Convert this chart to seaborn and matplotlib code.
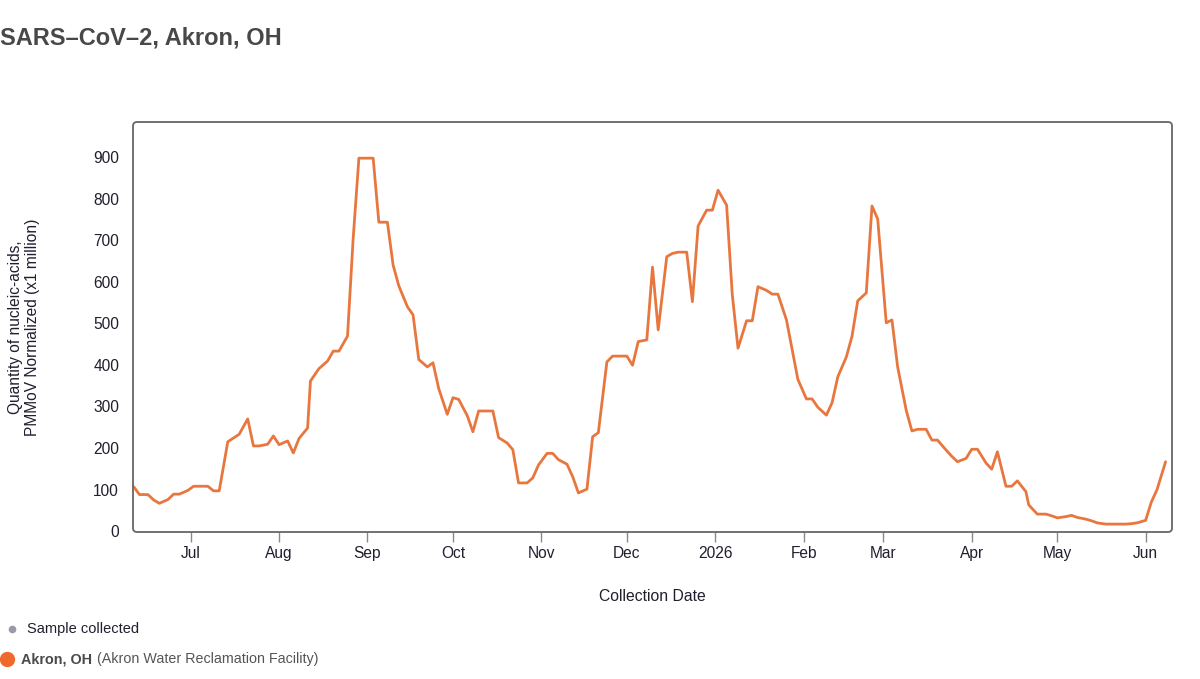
import matplotlib
matplotlib.use("Agg")
import matplotlib.pyplot as plt
import matplotlib.dates as mdates
from matplotlib.patches import FancyBboxPatch
from matplotlib.lines import Line2D
import seaborn as sns
import pandas as pd

# ---- data ----
dates = [
    "2025-06-11", "2025-06-13", "2025-06-16", "2025-06-18", "2025-06-20", "2025-06-23",
    "2025-06-25", "2025-06-27", "2025-06-30", "2025-07-02", "2025-07-04", "2025-07-07",
    "2025-07-09", "2025-07-11", "2025-07-14", "2025-07-16", "2025-07-18", "2025-07-21",
    "2025-07-23", "2025-07-25", "2025-07-28", "2025-07-30", "2025-08-01", "2025-08-04",
    "2025-08-06", "2025-08-08", "2025-08-11", "2025-08-12", "2025-08-15", "2025-08-18",
    "2025-08-20", "2025-08-22", "2025-08-25", "2025-08-27", "2025-08-29", "2025-09-01",
    "2025-09-03", "2025-09-05", "2025-09-08", "2025-09-10", "2025-09-12", "2025-09-15",
    "2025-09-17", "2025-09-19", "2025-09-22", "2025-09-24", "2025-09-26", "2025-09-29",
    "2025-10-01", "2025-10-03", "2025-10-06", "2025-10-08", "2025-10-10", "2025-10-13",
    "2025-10-15", "2025-10-17", "2025-10-20", "2025-10-22", "2025-10-24", "2025-10-27",
    "2025-10-29", "2025-10-31", "2025-11-03", "2025-11-05", "2025-11-07", "2025-11-10",
    "2025-11-12", "2025-11-14", "2025-11-17", "2025-11-19", "2025-11-21", "2025-11-24",
    "2025-11-26", "2025-11-28", "2025-12-01", "2025-12-03", "2025-12-05", "2025-12-08",
    "2025-12-10", "2025-12-12", "2025-12-15", "2025-12-17", "2025-12-19", "2025-12-22",
    "2025-12-24", "2025-12-26", "2025-12-29", "2025-12-31", "2026-01-02", "2026-01-05",
    "2026-01-07", "2026-01-09", "2026-01-12", "2026-01-14", "2026-01-16", "2026-01-19",
    "2026-01-21", "2026-01-23", "2026-01-26", "2026-01-28", "2026-01-30", "2026-02-02",
    "2026-02-04", "2026-02-06", "2026-02-09", "2026-02-11", "2026-02-13", "2026-02-16",
    "2026-02-18", "2026-02-20", "2026-02-23", "2026-02-25", "2026-02-27", "2026-03-02",
    "2026-03-04", "2026-03-06", "2026-03-09", "2026-03-11", "2026-03-13", "2026-03-16",
    "2026-03-18", "2026-03-20", "2026-03-23", "2026-03-25", "2026-03-27", "2026-03-30",
    "2026-04-01", "2026-04-03", "2026-04-06", "2026-04-08", "2026-04-10", "2026-04-13",
    "2026-04-15", "2026-04-17", "2026-04-20", "2026-04-21", "2026-04-24", "2026-04-27",
    "2026-04-29", "2026-05-01", "2026-05-04", "2026-05-06", "2026-05-08", "2026-05-11",
    "2026-05-13", "2026-05-15", "2026-05-18", "2026-05-20", "2026-05-22", "2026-05-25",
    "2026-05-27", "2026-05-29", "2026-06-01", "2026-06-03", "2026-06-05", "2026-06-08",
]
values = [
    107, 88, 88, 75, 67, 76,
    89, 89, 98, 108, 108, 108,
    97, 97, 215, 224, 233, 270,
    205, 205, 209, 229, 208, 217,
    188, 223, 248, 361, 391, 409,
    433, 433, 469, 705, 897, 897,
    897, 743, 743, 640, 590, 540,
    520, 413, 395, 405, 343, 281,
    321, 317, 278, 239, 289, 289,
    289, 225, 212, 196, 116, 116,
    128, 159, 187, 187, 172, 161,
    131, 92, 101, 227, 237, 407,
    421, 421, 421, 399, 456, 460,
    635, 484, 660, 668, 671, 671,
    552, 734, 772, 772, 820, 784,
    568, 440, 506, 506, 588, 579,
    570, 570, 508, 436, 365, 318,
    318, 298, 279, 309, 371, 419,
    469, 554, 573, 782, 751, 501,
    508, 395, 291, 241, 245, 245,
    219, 219, 195, 180, 167, 175,
    197, 197, 164, 149, 191, 108,
    108, 121, 95, 63, 41, 41,
    37, 32, 35, 38, 33, 29,
    25, 20, 17, 17, 17, 17,
    18, 20, 26, 70, 100, 167,
]
y_ticks = [0, 100, 200, 300, 400, 500, 600, 700, 800, 900]

title = "SARS\u2013CoV\u20132, Akron, OH"
y_label = "Quantity of nucleic-acids,\nPMMoV Normalized (x1 million)"
x_label = "Collection Date"
legend_sample = "Sample collected"
legend_site_bold = "Akron, OH"
legend_site_rest = "(Akron Water Reclamation Facility)"

LINE_COLOR = "#E8773F"
DOT_COLOR = "#EE6A2C"

df = pd.DataFrame({"date": pd.to_datetime(dates), "value": values})

# ---- style ----
sns.set_theme(style="white")
plt.rcParams["font.family"] = ["Liberation Sans", "DejaVu Sans"]

W, H = 1200, 679
fig = plt.figure(figsize=(W / 100, H / 100), dpi=100)
ax_l, ax_r, ax_t, ax_b = 133, 1172, 122, 532
ax = fig.add_axes([ax_l / W, 1 - ax_b / H, (ax_r - ax_l) / W, (ax_b - ax_t) / H])

sns.lineplot(data=df, x="date", y="value", ax=ax, color=LINE_COLOR, linewidth=2.0)

ax.set_xlim(pd.Timestamp("2025-06-10 18:00"), pd.Timestamp("2026-06-10 06:00"))
ax.set_ylim(-2, 984)
ax.set_yticks(y_ticks)
ax.yaxis.set_major_formatter(matplotlib.ticker.FuncFormatter(lambda v, p: f"{int(v)}"))

ax.xaxis.set_major_locator(mdates.MonthLocator())
def month_fmt(x, pos):
    d = mdates.num2date(x)
    return str(d.year) if d.month == 1 else d.strftime("%b")
ax.xaxis.set_major_formatter(matplotlib.ticker.FuncFormatter(month_fmt))

ax.tick_params(axis="x", direction="out", length=7, width=1, color="#8a8a8a",
               pad=3, labelsize=11.2, labelcolor="#1f1f2e", bottom=True)
ax.tick_params(axis="y", length=0, pad=10, labelsize=11.2, labelcolor="#1f1f2e")

ax.set_xlabel(x_label, fontsize=11.3, color="#1f1f2e", labelpad=20)
ax.set_ylabel(y_label, fontsize=11.2, color="#1f1f2e", labelpad=38, linespacing=1.2)
ax.grid(False)

for s in ax.spines.values():
    s.set_visible(False)

# rounded frame
aw, ah = ax_r - ax_l, ax_b - ax_t
r = 4 / aw
frame = FancyBboxPatch((0, 0), 1, 1, boxstyle=f"round,pad=0,rounding_size={r}",
                       mutation_aspect=aw / ah, transform=ax.transAxes,
                       fill=False, edgecolor="#666666", linewidth=1.3, clip_on=False, zorder=5)
ax.add_patch(frame)

# title
fig.text(0 / W, 1 - 38 / H, title, fontsize=17, fontweight="bold", color="#484848",
         ha="left", va="center")

# legend
fig.add_artist(Line2D([12 / W], [1 - 629 / H], marker="o", markersize=4.5,
                      color="#9a9aa8", linestyle="none", transform=fig.transFigure))
fig.text(27 / W, 1 - 629 / H, legend_sample, fontsize=10.5, color="#1f1f2e",
         ha="left", va="center")
fig.add_artist(Line2D([7 / W], [1 - 659 / H], marker="o", markersize=10,
                      color=DOT_COLOR, linestyle="none", transform=fig.transFigure))
fig.text(21 / W, 1 - 659 / H, legend_site_bold, fontsize=10.4, fontweight="bold",
         color="#4a4a4a", ha="left", va="center")
fig.text(97 / W, 1 - 659 / H, legend_site_rest, fontsize=10.3, color="#555555",
         ha="left", va="center")

fig.savefig("out.png", dpi=100)
